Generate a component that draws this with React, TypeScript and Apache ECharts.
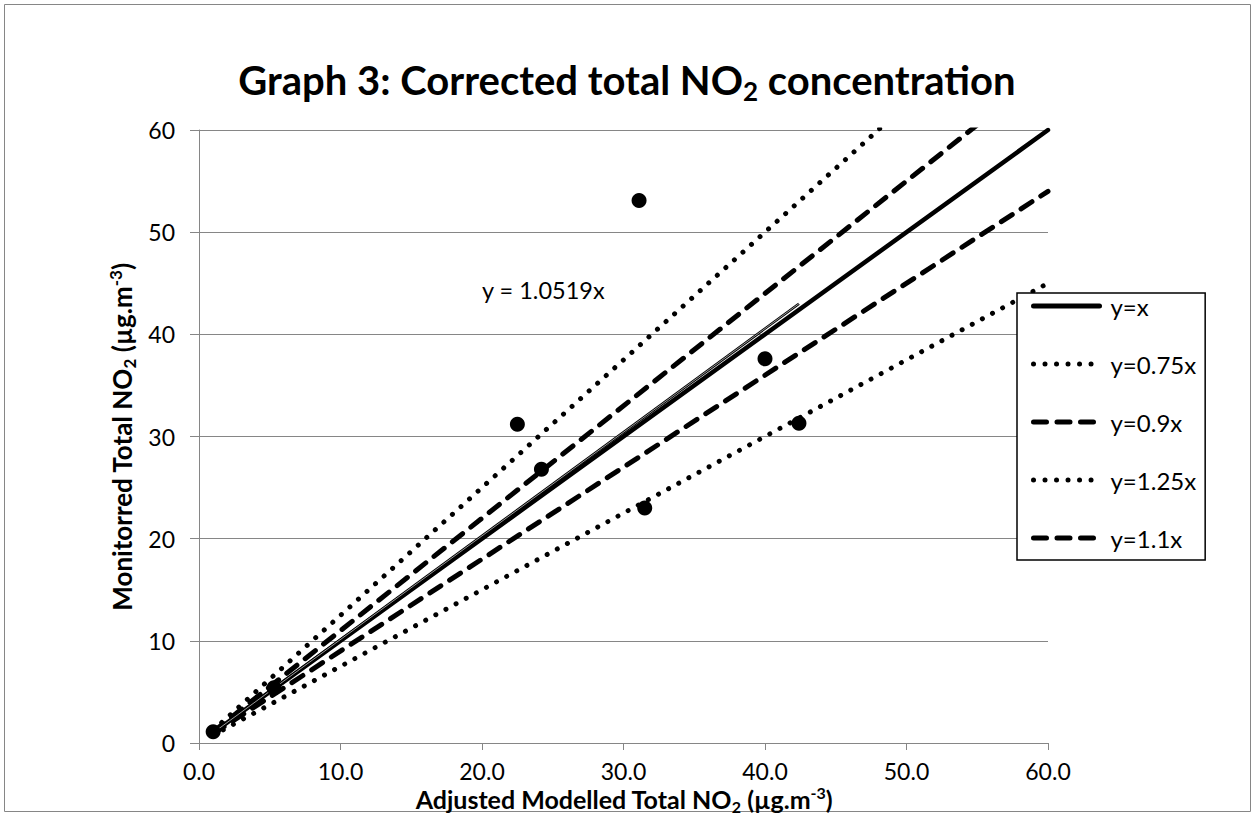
import React, { useEffect, useRef } from "react";
import * as echarts from "echarts";

// Observed (monitored vs adjusted modelled) NO2 values
const obsX = [1.0, 5.3, 22.5, 24.2, 31.1, 31.5, 40.0, 42.4];
const obsY = [1.1, 5.4, 31.2, 26.8, 53.1, 23.0, 37.6, 31.3];

// Reference lines (end points)
const lineNames = ["y=x", "y=0.75x", "y=0.9x", "y=1.25x", "y=1.1x"];
const lineX = [1, 60];
const lineYx = [1, 60];
const lineY075 = [0.75, 45];
const lineY09 = [0.9, 54];
const lineY125 = [1.25, 75];
const lineY11 = [1.1, 66];

// Trend line as drawn
const trendX = [1.0, 42.4];
const trendY = [1.0, 43.0];
const trendLabel = "y = 1.0519x";

const axisMin = 0;
const axisMax = 60;
const axisStep = 10;

const FONT = "Lato, 'Open Sans', sans-serif";
const GRID_GRAY = "#868686";

const pair = (xs: number[], ys: number[]) => xs.map((x, i) => [x, ys[i]]);

const solid = { type: "solid", width: 4.5, color: "#000", cap: "round" };
const dotted = { type: [0.01, 11.5], width: 5, color: "#000", cap: "round" };
const dashed = { type: [13, 10.5], width: 5, color: "#000", cap: "round" };
const lineStyles = [solid, dotted, dashed, dotted, dashed];

const nameStyles = (size: number) => ({
  a: { fontSize: size, fontWeight: "bold", fontFamily: FONT, color: "#000", lineHeight: Math.round(size * 1.2) },
  s: {
    fontSize: Math.round(size * 0.65),
    fontWeight: "bold",
    fontFamily: FONT,
    color: "#000",
    lineHeight: Math.round(size * 0.4),
    verticalAlign: "bottom",
  },
  p: {
    fontSize: Math.round(size * 0.65),
    fontWeight: "bold",
    fontFamily: FONT,
    color: "#000",
    lineHeight: Math.round(size * 0.6),
    verticalAlign: "top",
  },
});

export default function App() {
  const ref = useRef<HTMLDivElement>(null);

  useEffect(() => {
    if (!ref.current) return;
    const chart = echarts.init(ref.current, null, { renderer: "svg" });

    const lineSeries = (name: string, ys: number[], style: any) => ({
      name,
      type: "line",
      data: pair(lineX, ys),
      symbol: "none",
      showSymbol: false,
      lineStyle: style,
      itemStyle: { color: "#000" },
      clip: true,
      z: 3,
    });

    const option: any = {
      animation: false,
      backgroundColor: "#fff",
      grid: { left: 199, right: 207, top: 130, bottom: 73, containLabel: false },
      xAxis: {
        type: "value",
        min: axisMin,
        max: axisMax,
        interval: axisStep,
        axisLine: { show: true, onZero: false, lineStyle: { color: GRID_GRAY, width: 1 } },
        axisTick: { show: true, length: 7, lineStyle: { color: GRID_GRAY } },
        axisLabel: {
          formatter: (v: number) => v.toFixed(1),
          fontSize: 23,
          color: "#000",
          fontFamily: FONT,
          margin: 16,
        },
        splitLine: { show: false },
      },
      yAxis: {
        type: "value",
        min: axisMin,
        max: axisMax,
        interval: axisStep,
        axisLine: { show: true, lineStyle: { color: GRID_GRAY, width: 1 } },
        axisTick: { show: true, length: 9, lineStyle: { color: GRID_GRAY } },
        axisLabel: { fontSize: 23, color: "#000", fontFamily: FONT, margin: 24 },
        splitLine: { show: true, lineStyle: { color: GRID_GRAY, width: 1 } },
      },
      legend: {
        data: lineNames.map((name, i) => ({
          name,
          lineStyle: { ...lineStyles[i], width: 5 },
          itemStyle: { color: "rgba(0,0,0,0)", borderWidth: 0, opacity: 0 },
        })),
        orient: "vertical",
        left: 1017,
        top: 293,
        itemWidth: 66,
        itemHeight: 14,
        itemGap: 34,
        padding: [1, 9, 10, 14],
        borderColor: "#000",
        borderWidth: 1.5,
        backgroundColor: "#fff",
        selectedMode: false,
        itemStyle: { color: "rgba(0,0,0,0)", borderWidth: 0, opacity: 0 },
        textStyle: { fontSize: 24, color: "#000", fontFamily: FONT, padding: [0, 0, 0, 6] },
        z: 10,
      },
      series: [
        lineSeries(lineNames[0], lineYx, solid),
        lineSeries(lineNames[1], lineY075, dotted),
        lineSeries(lineNames[2], lineY09, dashed),
        lineSeries(lineNames[3], lineY125, dotted),
        lineSeries(lineNames[4], lineY11, dashed),
        {
          name: "trend",
          type: "line",
          data: pair(trendX, trendY),
          symbol: "none",
          lineStyle: { color: "#000", width: 2.6 },
          z: 4,
        },
        {
          name: "trendInner",
          type: "line",
          data: pair(trendX, trendY),
          symbol: "none",
          lineStyle: { color: "#fff", width: 0.6 },
          z: 4,
        },
        {
          name: "Monitored",
          type: "scatter",
          data: pair(obsX, obsY),
          symbol: "circle",
          symbolSize: 15,
          itemStyle: { color: "#000", opacity: 1 },
          z: 5,
        },
      ],
      graphic: [
        {
          type: "rect",
          shape: { x: 4.5, y: 4.5, width: 1246, height: 807 },
          style: { fill: "none", stroke: GRID_GRAY, lineWidth: 1 },
          silent: true,
          z: 0,
        },
        {
          type: "text",
          x: 627,
          y: 80,
          style: {
            text: "{a|Graph 3: Corrected total NO}{s|2}{a| concentration}",
            align: "center",
            verticalAlign: "middle",
            rich: {
              a: { fontSize: 40, fontWeight: "bold", fontFamily: FONT, color: "#000", lineHeight: 48 },
              s: { fontSize: 26, fontWeight: "bold", fontFamily: FONT, color: "#000", lineHeight: 14, verticalAlign: "bottom" },
            },
          },
          silent: true,
        },
        {
          type: "text",
          x: 624,
          y: 799,
          style: {
            text: "{a|Adjusted Modelled Total NO}{s|2}{a| (µg.m}{p|-3}{a|)}",
            align: "center",
            verticalAlign: "middle",
            rich: nameStyles(25),
          },
          silent: true,
        },
        {
          type: "text",
          x: 122,
          y: 437,
          rotation: Math.PI / 2,
          style: {
            text: "{a|Monitorred Total NO}{s|2}{a| (µg.m}{p|-3}{a|)}",
            align: "center",
            verticalAlign: "middle",
            rich: nameStyles(26),
          },
          silent: true,
        },
        {
          type: "text",
          x: 482,
          y: 290,
          style: {
            text: trendLabel,
            align: "left",
            verticalAlign: "middle",
            fontSize: 23.5,
            fontFamily: FONT,
            fill: "#000",
          },
          silent: true,
        },
      ],
    };

    chart.setOption(option);
    return () => chart.dispose();
  }, []);

  return (
    <div
      ref={ref}
      style={{ position: "absolute", left: 0, top: 0, width: 1255, height: 816, background: "#fff" }}
    />
  );
}
